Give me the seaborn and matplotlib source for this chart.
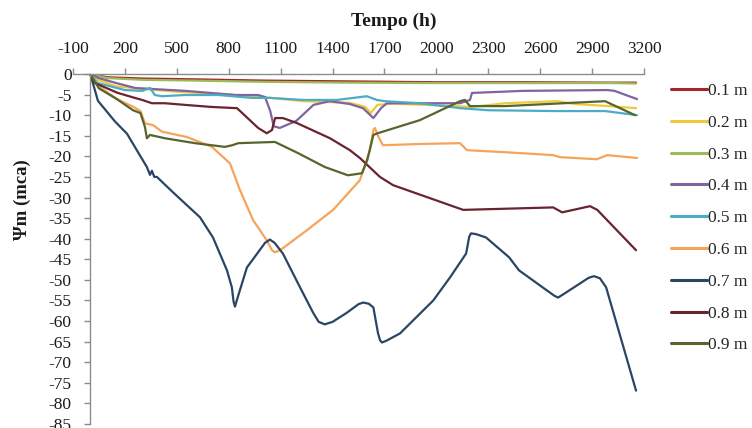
import numpy as np
import pandas as pd
import matplotlib
matplotlib.use("Agg")
import matplotlib.pyplot as plt
import seaborn as sns

# ---- data (hours, matric potential in mca) ----
h_01 = [0, 100, 300, 600, 1000, 1500, 2000, 2500, 3000, 3154]
v_01 = [0, -0.8, -1.1, -1.3, -1.6, -1.8, -2.0, -2.0, -2.1, -2.1]

h_02 = [0, 50, 150, 300, 500, 800, 1000, 1230, 1500, 1590, 1620, 1660, 1750, 2000, 2200, 2400, 2700, 2800, 3000, 3154]
v_02 = [0, -1.5, -3.0, -3.6, -4.3, -5.0, -5.6, -6.6, -7.0, -8.0, -9.5, -7.5, -7.2, -7.6, -8.0, -7.1, -6.6, -7.3, -7.8, -8.3]

h_03 = [0, 100, 300, 600, 1000, 1500, 2000, 2500, 3000, 3154]
v_03 = [0, -1.0, -1.4, -1.6, -1.9, -2.1, -2.2, -2.2, -2.2, -2.3]

h_04 = [0, 50, 150, 260, 550, 840, 970, 1010, 1040, 1060, 1095, 1190, 1290, 1385, 1500, 1576, 1636, 1680, 1714, 1900, 2137, 2194, 2206, 2500, 2990, 3030, 3160]
v_04 = [0, -1.0, -2.2, -3.4, -4.1, -5.1, -5.1, -5.6, -9.0, -12.7, -13.1, -11.4, -7.5, -6.6, -7.3, -8.3, -10.7, -8.3, -7.1, -7.1, -7.1, -6.3, -4.6, -4.1, -3.9, -4.1, -6.1]

h_05 = [0, 44, 200, 300, 345, 373, 414, 547, 740, 934, 1038, 1230, 1425, 1598, 1656, 1700, 1905, 2137, 2300, 2685, 2975, 3160]
v_05 = [0, -2.2, -3.9, -4.1, -3.4, -5.1, -5.4, -5.1, -5.1, -5.8, -5.8, -6.3, -6.3, -5.4, -6.3, -6.6, -7.1, -8.3, -8.8, -9.0, -9.0, -10.0]

h_06 = [0, 50, 150, 250, 290, 316, 362, 414, 558, 703, 807, 865, 941, 1020, 1050, 1067, 1085, 1113, 1250, 1403, 1558, 1616, 1636, 1645, 1660, 1691, 1900, 2137, 2177, 2400, 2675, 2714, 2928, 2987, 3160]
v_06 = [0, -3.0, -6.0, -8.0, -9.0, -12.0, -12.4, -14.0, -15.3, -17.7, -21.7, -28.2, -35.5, -40.4, -42.8, -43.3, -43.0, -42.3, -38.0, -33.0, -25.8, -18.5, -13.6, -13.1, -14.8, -17.3, -17.0, -16.8, -18.5, -19.0, -19.7, -20.2, -20.7, -19.7, -20.4]

h_07 = [0, 44, 142, 212, 327, 345, 356, 370, 385, 477, 634, 709, 790, 818, 828, 836, 850, 905, 1010, 1038, 1065, 1113, 1212, 1288, 1320, 1355, 1400, 1482, 1550, 1577, 1610, 1636, 1663, 1675, 1686, 1710, 1790, 1982, 2079, 2172, 2190, 2200, 2230, 2287, 2420, 2478, 2680, 2703, 2730, 2880, 2911, 2945, 2981, 3154]
v_07 = [0, -6.5, -11.5, -14.5, -22.6, -24.5, -23.5, -25.0, -25.0, -28.7, -34.8, -39.7, -47.7, -51.8, -55.3, -56.5, -54.5, -47.0, -41.0, -40.2, -41.0, -43.6, -51.8, -58.0, -60.2, -60.8, -60.2, -58.0, -55.9, -55.5, -55.8, -56.7, -63.0, -64.7, -65.2, -64.8, -63.0, -55.0, -49.4, -43.6, -39.5, -38.7, -38.9, -39.7, -44.5, -47.7, -53.8, -54.3, -53.6, -49.5, -49.1, -49.6, -51.8, -76.9]

h_08 = [0, 27, 159, 257, 300, 356, 431, 547, 700, 848, 970, 1020, 1050, 1068, 1113, 1193, 1385, 1500, 1558, 1674, 1750, 2155, 2675, 2727, 2888, 2930, 3154]
v_08 = [0, -2.2, -4.6, -5.8, -6.3, -7.1, -7.1, -7.5, -8.0, -8.3, -13.1, -14.4, -13.6, -10.7, -10.7, -11.9, -15.6, -18.5, -20.4, -25.0, -27.0, -33.0, -32.4, -33.6, -32.1, -33.0, -42.8]

h_09 = [0, 50, 150, 247, 290, 316, 327, 345, 431, 605, 778, 820, 855, 1067, 1200, 1356, 1489, 1570, 1600, 1636, 1660, 1905, 2137, 2165, 2194, 2397, 2975, 3148]
v_09 = [0, -3.5, -6.0, -8.8, -9.5, -12.9, -15.6, -14.8, -15.6, -16.8, -17.7, -17.3, -16.8, -16.5, -19.2, -22.6, -24.6, -24.1, -21.0, -14.8, -14.4, -11.2, -6.6, -6.3, -7.8, -7.8, -6.6, -10.0]

labels = ["0.1 m", "0.2 m", "0.3 m", "0.4 m", "0.5 m", "0.6 m", "0.7 m", "0.8 m", "0.9 m"]
hours = [h_01, h_02, h_03, h_04, h_05, h_06, h_07, h_08, h_09]
values = [v_01, v_02, v_03, v_04, v_05, v_06, v_07, v_08, v_09]
colors = ["#A3262A", "#F0C93A", "#9BBB59", "#8064A2", "#4BACC6",
          "#F5A55A", "#2B4564", "#6A2430", "#56652E"]
xticks = [-100, 200, 500, 800, 1100, 1400, 1700, 2000, 2300, 2600, 2900, 3200]
yticks = list(range(0, -90, -5))

rows = []
for lab, hs, vs in zip(labels, hours, values):
    for i, (hh, vv) in enumerate(zip(hs, vs)):
        rows.append({"Tempo": hh, "Psi": vv, "Prof": lab, "ord": i})
df = pd.DataFrame(rows)

sns.set_style("white")
plt.rcParams["font.family"] = ["Liberation Serif", "DejaVu Serif"]

W, H = 752, 428
fig = plt.figure(figsize=(W / 100, H / 100), dpi=100)
ax = fig.add_axes([73 / W, 1 - 424 / H, (644 - 73) / W, (424 - 74) / H])

sns.lineplot(data=df, x="Tempo", y="Psi", hue="Prof", hue_order=labels,
             palette=dict(zip(labels, colors)), sort=False, estimator=None,
             linewidth=1.6, ax=ax, legend=True)
for ln in ax.get_lines():
    ln.set_solid_joinstyle("round")
    ln.set_solid_capstyle("round")

ax.set_xlim(-100, 3200)
ax.set_ylim(-85, 0)
ax.xaxis.tick_top()
ax.set_xticks(xticks)
ax.set_yticks(yticks)
ax.set_xticklabels([str(t) for t in xticks])
ax.set_yticklabels([str(t) for t in yticks])
ax.set_xlabel("")
ax.set_ylabel("")

for s in ["right", "bottom"]:
    ax.spines[s].set_visible(False)
ax.spines["left"].set_position(("data", 0))
for s in ["left", "top"]:
    ax.spines[s].set_color("#8C8C8C")
    ax.spines[s].set_linewidth(1.0)

ax.tick_params(axis="x", which="both", top=True, bottom=False, direction="out",
               length=4.5, width=1.0, color="#8C8C8C", pad=8, labelsize=12.5,
               labelcolor="#1a1a1a")
ax.tick_params(axis="y", which="both", left=True, direction="out",
               length=4.5, width=1.0, color="#8C8C8C", pad=9, labelsize=12.5,
               labelcolor="#1a1a1a")

handles, labs = ax.get_legend_handles_labels()
if ax.legend_:
    ax.legend_.remove()
leg = fig.legend(handles, labs, loc="upper left", bbox_to_anchor=(671 / W, 1 - 83 / H),
                 frameon=False, fontsize=12.5, handlelength=2.1, handletextpad=0.05,
                 labelspacing=0.9, borderpad=0, borderaxespad=0)
for ln in leg.get_lines():
    ln.set_linewidth(2.2)

fig.text(394 / W, 1 - 21 / H, "Tempo (h)", ha="center", va="center",
         fontsize=14, fontweight="bold", color="#1a1a1a")
fig.text(22 / W, 1 - 200 / H, "Ψm (mca)", ha="center", va="center", rotation=90,
         fontsize=13.5, fontweight="bold", color="#1a1a1a")

fig.savefig("out.png", dpi=100, facecolor="white")
